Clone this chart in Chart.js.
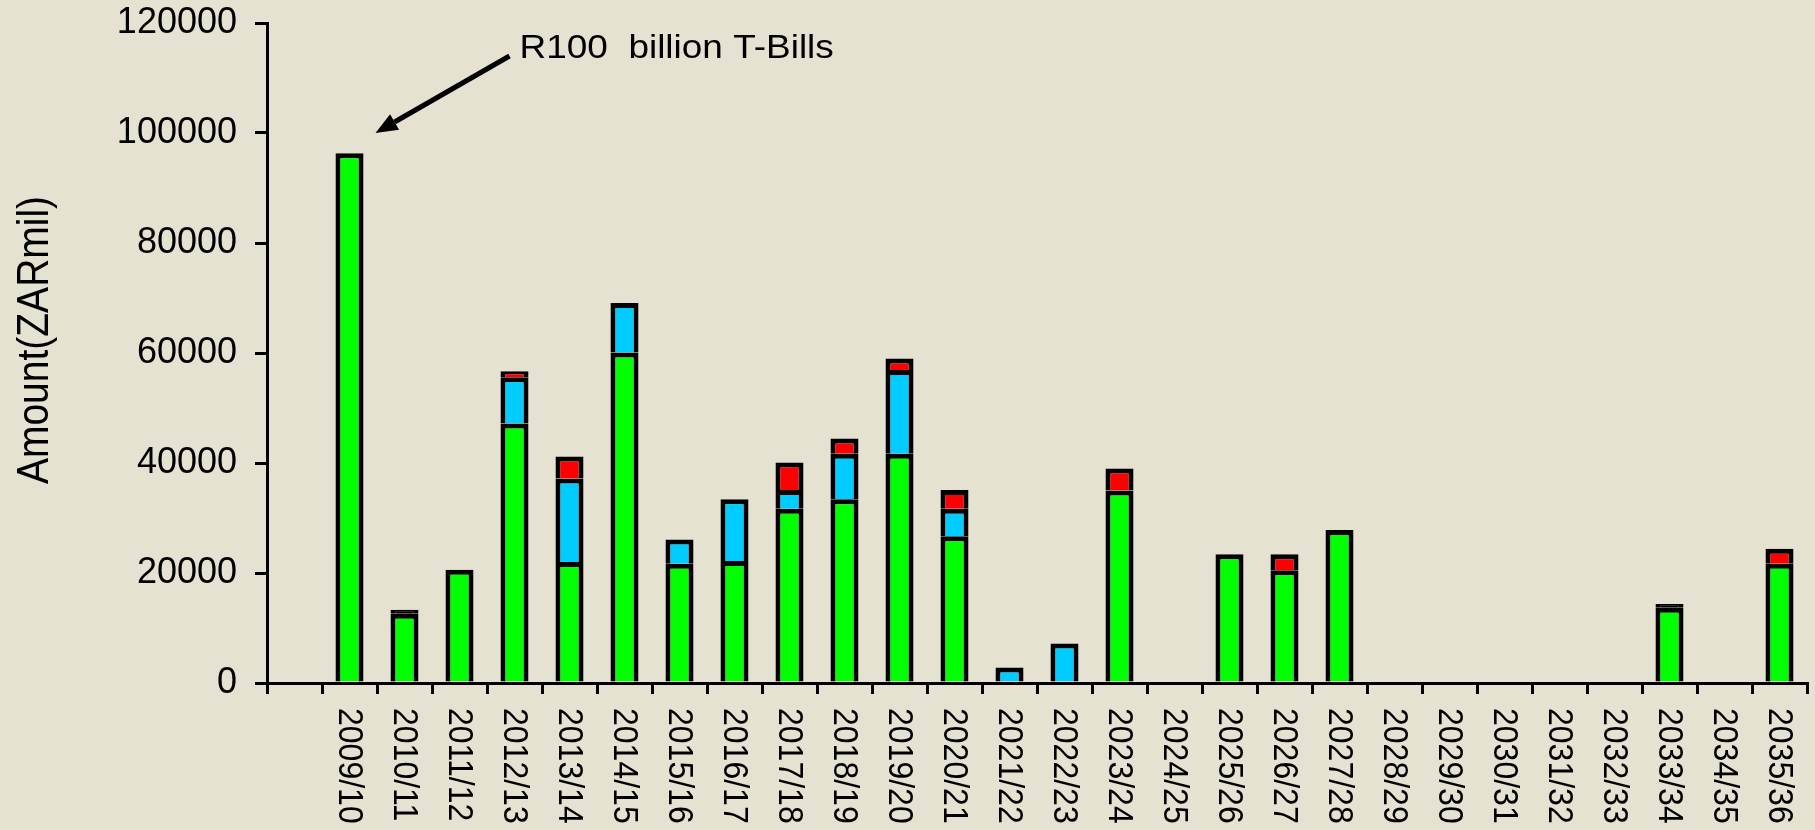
<!DOCTYPE html>
<html>
<head>
<meta charset="utf-8">
<script src="https://cdn.jsdelivr.net/npm/chart.js@4.4.0/dist/chart.umd.min.js"></script>
<style>
  html, body { margin: 0; padding: 0; background: #e5e2d2; }
  canvas { display: block; }
</style>
</head>
<body>
<canvas id="chart" width="1815" height="830"></canvas>
<script>
// fiscal years (first slot is an empty category, as in the original)
const years = [
  "", "2009/10", "2010/11", "2011/12", "2012/13", "2013/14", "2014/15",
  "2015/16", "2016/17", "2017/18", "2018/19", "2019/20", "2020/21",
  "2021/22", "2022/23", "2023/24", "2024/25", "2025/26", "2026/27",
  "2027/28", "2028/29", "2029/30", "2030/31", "2031/32", "2032/33",
  "2033/34", "2034/35", "2035/36"
];

const greenValues = [
  null, 96300, 12600, 20600, 47200, 22000, 60100,
  21700, 22200, 31700, 33400, 41700, 26700,
  null, null, 35000, null, 23400, 20500,
  27800, null, null, null, null, null,
  13700, null, 21700
];

const blueValues = [
  null, null, null, null, 8400, 15200, 9000,
  4400, 11200, 3400, 8300, 15200, 5000,
  2800, 7200, null, null, null, null,
  null, null, null, null, null, null,
  null, null, null
];

const redValues = [
  null, null, 700, null, 1100, 4000, null,
  null, null, 5000, 2750, 2100, 3400,
  null, null, 4000, null, null, 2900,
  null, null, null, null, null, null,
  650, null, 2700
];

const yTicks = [0, 20000, 40000, 60000, 80000, 100000, 120000];
const yTitle = "Amount(ZARmil)";
const noteText = "R100  billion T-Bills";

const FONT = "'Liberation Sans', Arial, sans-serif";
const BG = "#e5e2d2";
const STRETCH = 1.12;
const BORDER = 5;

const background = {
  id: "background",
  beforeDraw(chart) {
    const ctx = chart.ctx;
    ctx.save();
    ctx.fillStyle = BG;
    ctx.fillRect(0, 0, chart.width, chart.height);
    ctx.restore();
  },
};

// year labels read top-to-bottom under each tick, y title reads bottom-to-top
const axisTexts = {
  id: "axisTexts",
  afterDraw(chart) {
    const ctx = chart.ctx;
    const xs = chart.scales.x;
    const area = chart.chartArea;
    ctx.save();
    ctx.fillStyle = "#000";
    ctx.font = `32px ${FONT}`;
    ctx.textAlign = "left";
    ctx.textBaseline = "middle";
    years.forEach((label, i) => {
      if (!label) return;
      ctx.save();
      ctx.translate(xs.getPixelForValue(i) - 1, area.bottom + 25);
      ctx.scale(STRETCH, 1);
      ctx.rotate(Math.PI / 2);
      ctx.fillText(label, 0, 0);
      ctx.restore();
    });

    ctx.translate(36, (area.top + area.bottom) / 2 - 13);
    ctx.scale(STRETCH, 1);
    ctx.rotate(-Math.PI / 2);
    ctx.font = `39px ${FONT}`;
    ctx.textAlign = "center";
    ctx.fillText(yTitle, 0, 0);
    ctx.restore();
  },
};

// arrow + note pointing at the first bar
const note = {
  id: "note",
  afterDraw(chart) {
    const ctx = chart.ctx;
    const xs = chart.scales.x;
    const ys = chart.scales.y;
    const tipX = xs.getPixelForValue(1) + 26;
    const tipY = ys.getPixelForValue(100000);
    const tailX = tipX + 134;
    const tailY = tipY - 77;
    const ang = Math.atan2(tipY - tailY, tipX - tailX);
    const headLen = 22;
    const headW = 9;
    const baseX = tipX - headLen * Math.cos(ang);
    const baseY = tipY - headLen * Math.sin(ang);

    ctx.save();
    ctx.strokeStyle = "#000";
    ctx.fillStyle = "#000";
    ctx.lineWidth = 5;
    ctx.beginPath();
    ctx.moveTo(tailX, tailY);
    ctx.lineTo(baseX, baseY);
    ctx.stroke();
    ctx.beginPath();
    ctx.moveTo(tipX, tipY);
    ctx.lineTo(baseX + headW * Math.sin(ang), baseY - headW * Math.cos(ang));
    ctx.lineTo(baseX - headW * Math.sin(ang), baseY + headW * Math.cos(ang));
    ctx.closePath();
    ctx.fill();

    ctx.translate(tipX + 144, tipY - 75);
    ctx.scale(STRETCH, 1);
    ctx.font = `33px ${FONT}`;
    ctx.textAlign = "left";
    ctx.textBaseline = "alphabetic";
    ctx.fillText(noteText, 0, 0);
    ctx.restore();
  },
};

// segments thinner than their own outline come out solid black, as in the original
function fillFor(color) {
  return (c) => {
    const ys = c.chart.scales.y;
    const v = c.raw;
    if (!ys || v == null) return color;
    const h = Math.abs(ys.getPixelForValue(0) - ys.getPixelForValue(v));
    return h < 5 ? "#000000" : color;
  };
}

const barStyle = {
  borderColor: "#000000",
  borderWidth: BORDER,
  borderSkipped: "start",
  barPercentage: 0.51,
  categoryPercentage: 1.0,
};

new Chart(document.getElementById("chart"), {
  type: "bar",
  data: {
    labels: years,
    datasets: [
      { label: "Series 1", data: greenValues, backgroundColor: fillFor("#00ff00"), ...barStyle },
      { label: "Series 2", data: blueValues, backgroundColor: fillFor("#00ccff"), ...barStyle },
      { label: "Series 3", data: redValues, backgroundColor: fillFor("#ff0000"), ...barStyle },
    ],
  },
  options: {
    responsive: false,
    devicePixelRatio: 1,
    animation: false,
    layout: { padding: { left: 10, right: 8, top: 23, bottom: 136 } },
    plugins: {
      legend: { display: false },
      tooltip: { enabled: false },
    },
    scales: {
      x: {
        stacked: true,
        border: { color: "#000", width: 3 },
        grid: {
          drawOnChartArea: false,
          drawTicks: true,
          tickLength: 11,
          color: "#000",
          lineWidth: 3,
        },
        ticks: { display: false },
      },
      y: {
        stacked: true,
        min: 0,
        max: 120000,
        afterBuildTicks: (s) => {
          s.ticks = yTicks.map((v) => ({ value: v }));
        },
        afterFit: (s) => {
          s.width = 257;
          s.paddingTop = 0;
          s.paddingBottom = 0;
        },
        border: { color: "#000", width: 3 },
        grid: {
          drawOnChartArea: false,
          drawTicks: true,
          tickLength: 12,
          color: "#000",
          lineWidth: 3,
        },
        ticks: {
          color: "#000",
          padding: 18,
          font: { family: FONT, size: 36 },
          callback: (v) => String(v),
        },
        title: { display: false },
      },
    },
  },
  plugins: [background, axisTexts, note],
});
</script>
</body>
</html>
